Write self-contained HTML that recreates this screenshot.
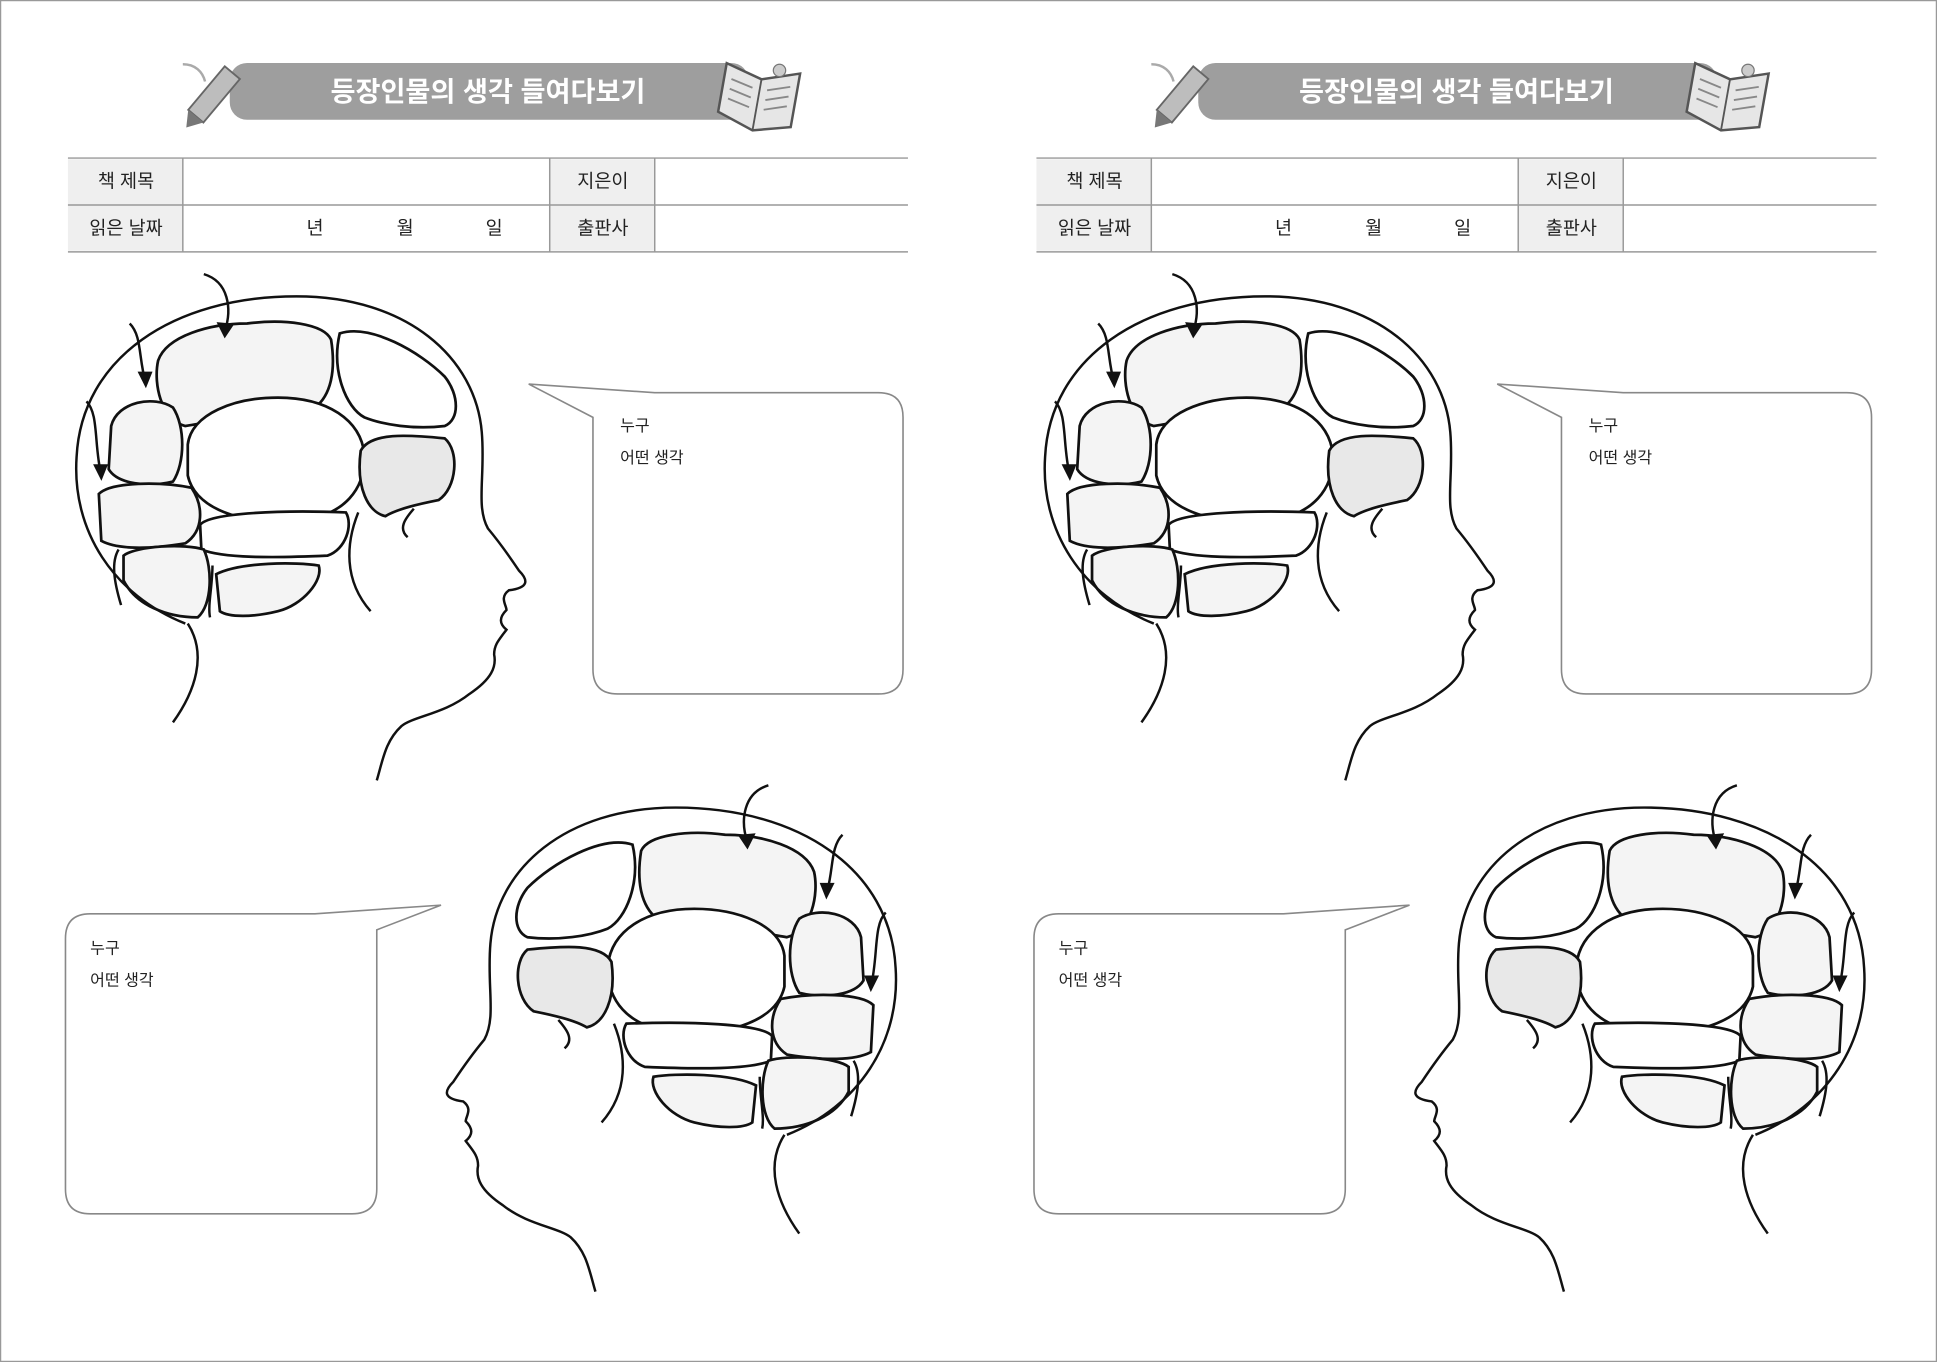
<!DOCTYPE html>
<html><head><meta charset="utf-8"><style>
html,body{margin:0;padding:0;background:#fff;}
svg{display:block;}
text{font-family:"Liberation Sans","Noto Sans CJK KR","NanumGothic",sans-serif;}
</style></head><body>
<svg width="1937" height="1362" viewBox="0 0 1568 1103" preserveAspectRatio="none" xmlns="http://www.w3.org/2000/svg">
<defs>
<g id="lobes" stroke="#111" stroke-width="2.2" fill="#f4f4f4">
  <path d="M128,292 C135,272 170,262 200,262 C230,258 262,262 268,275 C272,300 268,320 255,330 C220,332 180,340 150,345 C130,340 124,310 128,292Z"/>
  <path d="M275,270 C300,262 340,285 360,305 C372,320 372,340 360,345 C335,348 310,344 295,338 C280,330 268,300 275,270Z" fill="#fff"/>
  <path d="M152,360 C155,335 190,322 225,322 C265,322 292,340 295,368 C296,395 280,418 240,422 C195,425 158,412 152,385Z" fill="#fff"/>
  <path d="M90,345 C95,325 125,320 140,330 C150,345 150,375 140,390 C120,395 95,392 88,380Z"/>
  <path d="M292,365 C300,350 330,352 360,355 C372,365 370,395 355,405 C340,408 322,412 312,418 C298,415 288,395 292,365Z" fill="#e8e8e8"/>
  <path d="M80,400 C90,390 130,390 155,395 C165,410 165,430 150,440 C120,445 95,445 82,438Z"/>
  <path d="M162,425 C170,415 230,413 280,415 C286,425 280,445 265,450 C220,452 180,452 163,445Z" fill="#fff"/>
  <path d="M100,450 C110,442 150,440 165,445 C172,460 172,490 160,500 C135,500 110,490 100,470Z"/>
  <path d="M175,465 C195,455 240,455 258,458 C262,470 245,490 225,495 C205,500 185,500 178,495Z"/>
</g>
<g id="head" fill="none" stroke="#111" stroke-width="2">
  <path d="M150,505 C92,482 58,430 62,370 C66,290 140,240 240,240 C330,240 385,290 390,350 C393,385 385,410 395,428 C405,440 412,450 420,462 C428,470 428,476 412,478 C404,484 410,490 410,494 C404,500 404,505 410,510 C404,518 400,522 400,530 C402,540 398,550 380,562 C360,578 335,580 325,588 C312,600 310,615 305,632"/>
  <path d="M152,505 C168,530 158,560 140,585"/>
  <path d="M165,222 C185,228 188,250 182,268" /><path d="M177,262 L182,272 L188,263Z" fill="#111"/>
  <path d="M105,262 C115,272 112,290 118,310"/><path d="M113,302 L118,312 L122,302Z" fill="#111"/>
  <path d="M70,325 C80,335 76,360 82,385"/><path d="M77,377 L82,387 L86,377Z" fill="#111"/>
  <path d="M98,490 C92,470 90,455 96,445"/>
  <path d="M290,415 C280,440 278,470 300,495"/>
  <path d="M330,435 C322,428 328,420 335,412"/>
  <path d="M172,458 C172,475 168,490 170,500"/>
</g>
<g id="decor">
  <rect x="186" y="51" width="420" height="46" rx="14" fill="#9e9e9e"/>
  <g transform="translate(172,78) rotate(40)"><rect x="-8" y="-25" width="16" height="46" fill="#bdbdbd" stroke="#666" stroke-width="1.5"/><path d="M-8,21 L0,33 L8,21Z" fill="#777"/></g>
  <path d="M148,52 C158,52 164,58 166,66" stroke="#aaa" stroke-width="2" fill="none"/>
  <g transform="translate(614,78) rotate(10)"><path d="M-30,-22 L0,-14 L30,-24 L30,20 L0,28 L-30,18Z" fill="#e6e6e6" stroke="#555" stroke-width="2"/><line x1="0" y1="-14" x2="0" y2="28" stroke="#555" stroke-width="1.5"/><path d="M-24,-10 L-6,-6 M-24,-2 L-6,2 M-24,6 L-6,10 M6,-6 L24,-12 M6,2 L24,-4 M6,10 L24,4" stroke="#888" stroke-width="1.5"/></g>
  <circle cx="631" cy="57" r="5" fill="#ccc" stroke="#777"/>
  <rect x="55" y="129" width="93" height="74" fill="#efefef"/><rect x="445" y="129" width="85" height="74" fill="#efefef"/>
  <g stroke="#999" stroke-width="1.2"><line x1="55" y1="128" x2="735" y2="128"/><line x1="55" y1="166" x2="735" y2="166"/><line x1="55" y1="204" x2="735" y2="204"/><line x1="148" y1="128" x2="148" y2="204"/><line x1="445" y1="128" x2="445" y2="204"/><line x1="530" y1="128" x2="530" y2="204"/></g>
  <path d="M480,338 L428,311 L530,318 L711,318 Q731,318 731,338 L731,542 Q731,562 711,562 L500,562 Q480,562 480,542Z" fill="#fff" stroke="#888" stroke-width="1.3"/>
  <path d="M305,753 L357,733 L255,740 L73,740 Q53,740 53,760 L53,963 Q53,983 73,983 L285,983 Q305,983 305,963Z" fill="#fff" stroke="#888" stroke-width="1.3"/>
  <use href="#lobes"/><use href="#head"/>
  <g transform="translate(787,414) scale(-1,1)"><use href="#lobes"/><use href="#head"/></g>
</g>
</defs>
<rect x="0.5" y="0.5" width="1567" height="1102" fill="#fff" stroke="#999"/>
<use href="#decor"/>
<use href="#decor" transform="translate(784,0)"/>
<g font-size="15" fill="#222" text-anchor="middle">
  <text x="102" y="152">책 제목</text><text x="488" y="152">지은이</text>
  <text x="102" y="190">읽은 날짜</text><text x="488" y="190">출판사</text>
  <text x="255" y="190">년</text><text x="328" y="190">월</text><text x="400" y="190">일</text>
  <text x="886" y="152">책 제목</text><text x="1272" y="152">지은이</text>
  <text x="886" y="190">읽은 날짜</text><text x="1272" y="190">출판사</text>
  <text x="1039" y="190">년</text><text x="1112" y="190">월</text><text x="1184" y="190">일</text>
</g>
<g font-size="22" font-weight="bold" fill="#fff" text-anchor="middle">
  <text x="395" y="82">등장인물의 생각 들여다보기</text>
  <text x="1179" y="82">등장인물의 생각 들여다보기</text>
</g>
<g font-size="13" fill="#222">
  <text x="502" y="349">누구</text><text x="502" y="375">어떤 생각</text>
  <text x="73" y="772">누구</text><text x="73" y="798">어떤 생각</text>
  <text x="1286" y="349">누구</text><text x="1286" y="375">어떤 생각</text>
  <text x="857" y="772">누구</text><text x="857" y="798">어떤 생각</text>
</g>
</svg>
</body></html>
